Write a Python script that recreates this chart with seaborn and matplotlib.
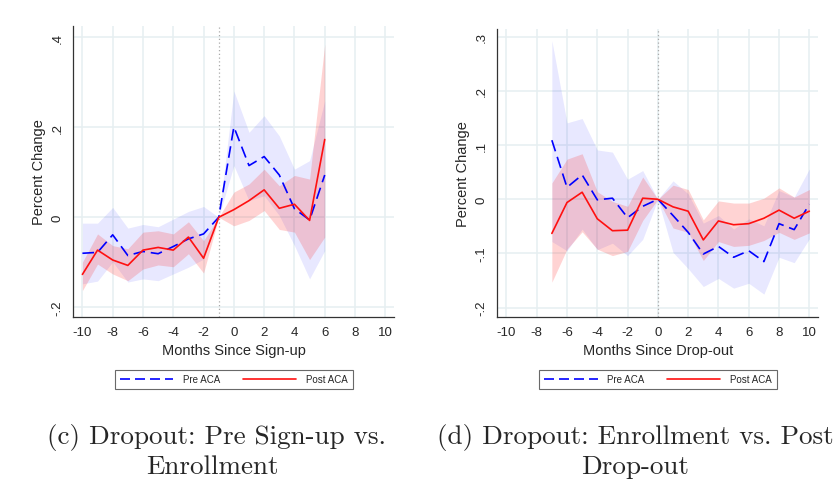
import matplotlib
matplotlib.use("Agg")
import matplotlib.pyplot as plt
import pandas as pd
import seaborn as sns
from matplotlib.lines import Line2D

# event-study estimates
sign_months = [-10, -9, -8, -7, -6, -5, -4, -3, -2, -1, 0, 1, 2, 3, 4, 5, 6]
sign_pre = [-0.080, -0.078, -0.039, -0.085, -0.076, -0.081, -0.065, -0.048, -0.037, 0.0,
            0.201, 0.115, 0.135, 0.094, 0.019, -0.006, 0.094]
sign_pre_lo = [-0.148, -0.142, -0.099, -0.144, -0.137, -0.141, -0.126, -0.111, -0.093, 0.0,
               0.115, 0.037, 0.048, 0.004, -0.063, -0.137, -0.074]
sign_pre_hi = [-0.013, -0.013, 0.022, -0.024, -0.016, -0.021, -0.004, 0.013, 0.024, 0.0,
               0.281, 0.189, 0.226, 0.181, 0.107, 0.126, 0.259]
sign_post = [-0.127, -0.073, -0.095, -0.107, -0.073, -0.067, -0.073, -0.044, -0.091, 0.0,
             0.017, 0.037, 0.061, 0.020, 0.029, -0.007, 0.173]
sign_post_lo = [-0.163, -0.104, -0.126, -0.141, -0.115, -0.106, -0.110, -0.081, -0.124, 0.0,
                -0.019, -0.007, 0.015, -0.027, -0.033, -0.094, -0.044]
sign_post_hi = [-0.100, -0.037, -0.063, -0.070, -0.033, -0.030, -0.037, -0.010, -0.052, 0.0,
                0.056, 0.074, 0.107, 0.070, 0.093, 0.085, 0.385]

drop_months = [-7, -6, -5, -4, -3, -2, -1, 0, 1, 2, 3, 4, 5, 6, 7, 8, 9, 10]
drop_pre = [0.109, 0.022, 0.045, -0.001, 0.002, -0.034, -0.013, 0.0, -0.030, -0.061,
            -0.101, -0.087, -0.107, -0.095, -0.115, -0.045, -0.056, -0.009]
drop_pre_lo = [-0.078, -0.095, -0.055, -0.093, -0.081, -0.104, -0.074, 0.0, -0.098, -0.128,
               -0.161, -0.146, -0.164, -0.155, -0.175, -0.107, -0.117, -0.073]
drop_pre_hi = [0.293, 0.141, 0.149, 0.091, 0.087, 0.037, 0.053, 0.0, 0.034, 0.010,
               -0.044, -0.030, -0.055, -0.036, -0.049, 0.016, 0.004, 0.056]
drop_post = [-0.063, -0.006, 0.013, -0.036, -0.058, -0.057, 0.002, 0.0, -0.014, -0.022,
             -0.075, -0.040, -0.047, -0.045, -0.035, -0.020, -0.035, -0.022]
drop_post_lo = [-0.153, -0.092, -0.060, -0.092, -0.104, -0.096, -0.039, 0.0, -0.053, -0.061,
                -0.113, -0.078, -0.087, -0.085, -0.076, -0.061, -0.074, -0.062]
drop_post_hi = [0.030, 0.074, 0.084, 0.014, -0.004, -0.013, 0.041, 0.0, 0.026, 0.018,
                -0.038, -0.003, -0.007, -0.007, 0.002, 0.021, 0.004, 0.018]

x_ticks = [-10, -8, -6, -4, -2, 0, 2, 4, 6, 8, 10]
sign_yticks = [-0.2, 0.0, 0.2, 0.4]
sign_ylabels = ["-.2", "0", ".2", ".4"]
drop_yticks = [-0.2, -0.1, 0.0, 0.1, 0.2, 0.3]
drop_ylabels = ["-.2", "-.1", "0", ".1", ".2", ".3"]

sns.set_style("white")
plt.rcParams["font.family"] = ["Liberation Sans", "DejaVu Sans"]

PRE_C = "#0000ff"
POST_C = "#ff1010"
GRID_C = "#e6eff1"


def draw_panel(ax, months, pre, pre_lo, pre_hi, post, post_lo, post_hi,
               yticks, ylabels, ylim, xlabel, vline):
    ax.fill_between(months, pre_lo, pre_hi, color=PRE_C, alpha=0.09, lw=0, zorder=1)
    ax.fill_between(months, post_lo, post_hi, color=POST_C, alpha=0.18, lw=0, zorder=2)
    ax.axvline(vline, color="#aaaaaa", ls=(0, (1, 2)), lw=0.9, zorder=2.5)

    df = pd.DataFrame({
        "month": months + months,
        "value": pre + post,
        "series": ["Pre ACA"] * len(months) + ["Post ACA"] * len(months),
    })
    sns.lineplot(data=df, x="month", y="value", hue="series", style="series",
                 palette={"Pre ACA": PRE_C, "Post ACA": POST_C},
                 dashes={"Pre ACA": (7, 3.5), "Post ACA": ""},
                 errorbar=None, lw=1.2, legend=False, ax=ax, zorder=3)

    ax.set_xlim(-10.6, 10.57)
    ax.set_ylim(*ylim)
    ax.set_xticks(x_ticks)
    ax.set_xticklabels([str(t) for t in x_ticks], fontsize=9.5)
    ax.set_yticks(yticks)
    ax.set_yticklabels(ylabels, rotation=90, va="center", fontsize=9.5)
    ax.grid(True, color=GRID_C, lw=1.1)
    ax.set_axisbelow(True)
    for s in ["top", "right"]:
        ax.spines[s].set_visible(False)
    for s in ["left", "bottom"]:
        ax.spines[s].set_color("#333333")
        ax.spines[s].set_linewidth(0.9)
    ax.tick_params(direction="out", length=4, width=0.8, color="#333333", pad=3)
    ax.set_xlabel(xlabel, fontsize=10.5, labelpad=3)
    ax.set_ylabel("Percent Change", fontsize=10.5, labelpad=4)


fig = plt.figure(figsize=(8.35, 4.85), dpi=100)
ax1 = fig.add_axes([0.0878, 0.345, 0.384, 0.599])
ax2 = fig.add_axes([0.5956, 0.345, 0.384, 0.593])

draw_panel(ax1, sign_months, sign_pre, sign_pre_lo, sign_pre_hi,
           sign_post, sign_post_lo, sign_post_hi,
           sign_yticks, sign_ylabels, (-0.221, 0.425), "Months Since Sign-up", -1)
draw_panel(ax2, drop_months, drop_pre, drop_pre_lo, drop_pre_hi,
           drop_post, drop_post_lo, drop_post_hi,
           drop_yticks, drop_ylabels, (-0.2166, 0.314), "Months Since Drop-out", 0)

handles = [Line2D([0], [0], color=PRE_C, lw=1.2, ls=(0, (6, 3))),
           Line2D([0], [0], color=POST_C, lw=1.2)]
for cx in [0.28, 0.788]:
    leg = fig.legend(handles, ["Pre ACA", "Post ACA"], loc="center",
                     bbox_to_anchor=(cx, 0.2155), ncol=2, fontsize=7,
                     handlelength=5.5, handletextpad=1.0, columnspacing=2.3,
                     frameon=True, fancybox=False, borderpad=0.5)
    leg.get_frame().set_edgecolor("#444444")
    leg.get_frame().set_linewidth(0.8)

cap_kw = dict(ha="center", va="center", family="cmr10", fontsize=19.5)
fig.text(0.259, 0.097, "(c) Dropout: Pre Sign-up vs.", **cap_kw)
fig.text(0.254, 0.037, "Enrollment", **cap_kw)
fig.text(0.761, 0.097, "(d) Dropout: Enrollment vs. Post", **cap_kw)
fig.text(0.761, 0.037, "Drop-out", **cap_kw)

fig.savefig("out.png", dpi=100)
